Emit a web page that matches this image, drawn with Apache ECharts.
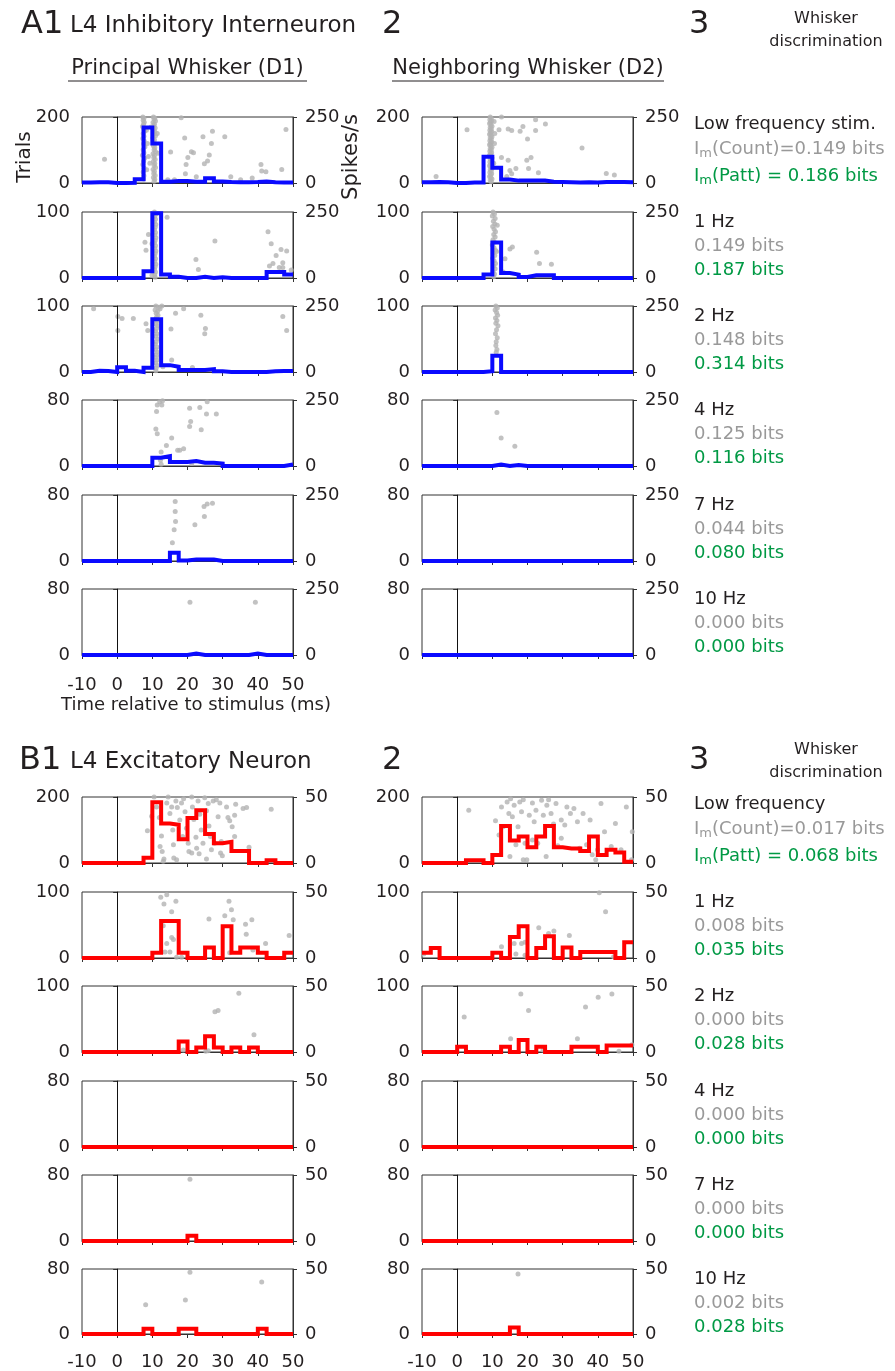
<!DOCTYPE html>
<html>
<head>
<meta charset="utf-8">
<script src="https://cdn.jsdelivr.net/npm/echarts@6/dist/echarts.min.js"></script>
<style>
  html, body { margin: 0; padding: 0; background: #fff; }
  #fig { width: 895px; height: 1371px; }
</style>
</head>
<body>
<div id="fig"></div>
<script>
// ---- data ----------------------------------------------------------------
// PSTH bin edges (ms), 2.5 ms bins from -10 to 50
var binEdges = [-10, -7.5, -5, -2.5, 0, 2.5, 5, 7.5, 10, 12.5, 15, 17.5, 20, 22.5, 25, 27.5, 30, 32.5, 35, 37.5, 40, 42.5, 45, 47.5, 50];
var xTicks = [-10, 50, 10]; // min, max, interval

var trialMax = [200, 100, 100, 80, 80, 80];
var rateMaxA = 250;
var rateMaxB = 50;

// spikes/s per bin (24 bins), rows = low freq, 1, 2, 4, 7, 10 Hz
var psthA1 = [
  [2, 3, 3, 0, 0, 1, 14, 210, 150, 5, 8, 8, 5, 5, 18, 6, 4, 3, 3, 4, 6, 3, 2, 2],
  [0, 0, 0, 0, 0, 0, 0, 26, 245, 13, 5, 0, 0, 5, 0, 3, 0, 0, 0, 0, 0, 23, 23, 13],
  [0, 5, 4, 0, 18, 5, 0, 16, 200, 26, 20, 8, 8, 8, 11, 3, 0, 0, 0, 0, 0, 3, 4, 4],
  [0, 0, 0, 0, 0, 0, 0, 0, 31, 37, 15, 15, 19, 12, 12, 9, 0, 0, 0, 0, 0, 0, 0, 6],
  [0, 0, 0, 0, 0, 0, 0, 0, 0, 0, 31, 2, 6, 6, 6, 0, 0, 0, 0, 0, 0, 0, 0, 0],
  [0, 0, 0, 0, 0, 0, 0, 0, 0, 0, 0, 0, 6, 0, 0, 0, 0, 0, 0, 6, 0, 0, 0, 0]
];
var psthA2 = [
  [3, 4, 3, 0, 0, 2, 2, 99, 58, 13, 9, 9, 9, 9, 5, 4, 3, 2, 3, 2, 4, 4, 4, 3],
  [0, 0, 0, 0, 0, 0, 0, 13, 134, 19, 13, 4, 10, 10, 10, 0, 0, 0, 0, 0, 0, 0, 0, 0],
  [0, 0, 0, 0, 0, 0, 0, 3, 62, 0, 0, 0, 0, 0, 0, 0, 0, 0, 0, 0, 0, 0, 0, 0],
  [0, 0, 0, 0, 0, 0, 0, 0, 6, 0, 4, 0, 0, 0, 0, 0, 0, 0, 0, 0, 0, 0, 0, 0],
  [0, 0, 0, 0, 0, 0, 0, 0, 0, 0, 0, 0, 0, 0, 0, 0, 0, 0, 0, 0, 0, 0, 0, 0],
  [0, 0, 0, 0, 0, 0, 0, 0, 0, 0, 0, 0, 0, 0, 0, 0, 0, 0, 0, 0, 0, 0, 0, 0]
];
var psthB1 = [
  [0, 0, 0, 0, 0, 0, 0, 4, 46, 30, 29, 18, 34, 40, 22, 15, 16, 9, 9, 0, 0, 2, 0, 0],
  [0, 0, 0, 0, 0, 0, 0, 0, 4, 28, 28, 4, 0, 0, 8, 0, 24, 4, 8, 8, 4, 0, 0, 4],
  [0, 0, 0, 0, 0, 0, 0, 0, 0, 0, 0, 8, 0, 3.5, 12, 3.5, 0, 3.5, 0, 3.5, 0, 0, 0, 0],
  [0, 0, 0, 0, 0, 0, 0, 0, 0, 0, 0, 0, 0, 0, 0, 0, 0, 0, 0, 0, 0, 0, 0, 0],
  [0, 0, 0, 0, 0, 0, 0, 0, 0, 0, 0, 0, 4, 0, 0, 0, 0, 0, 0, 0, 0, 0, 0, 0],
  [0, 0, 0, 0, 0, 0, 0, 4, 0, 0, 0, 4, 4, 0, 0, 0, 0, 0, 0, 0, 4, 0, 0, 0]
];
var psthB2 = [
  [0, 0, 0, 0, 0, 2, 2, 0, 6, 28, 17, 20, 12, 20, 28, 12, 11, 11, 9, 20, 6, 10, 8, 1],
  [4, 7.5, 0, 0, 0, 0, 0, 0, 4, 0, 16, 24, 0, 7.5, 16.5, 0, 8, 0, 4.5, 4.5, 4.5, 4.5, 0, 12],
  [0, 0, 0, 0, 4, 0, 0, 0, 0, 4, 0, 9, 0, 4, 0, 0, 0, 4, 4, 4, 0, 5, 5, 5],
  [0, 0, 0, 0, 0, 0, 0, 0, 0, 0, 0, 0, 0, 0, 0, 0, 0, 0, 0, 0, 0, 0, 0, 0],
  [0, 0, 0, 0, 0, 0, 0, 0, 0, 0, 0, 0, 0, 0, 0, 0, 0, 0, 0, 0, 0, 0, 0, 0],
  [0, 0, 0, 0, 0, 0, 0, 0, 0, 0, 5, 0, 0, 0, 0, 0, 0, 0, 0, 0, 0, 0, 0, 0]
];

// raster dots: [time (ms), trial]
var rasterA1 = [
  [[-3.6, 72], [15.2, 94], [18.2, 198], [19.2, 136], [20.1, 77], [21.1, 95], [21.7, 92], [19.6, 56], [19.4, 28], [22.5, 19],
   [24.4, 140], [27.1, 157], [26.8, 120], [26.2, 85], [25.7, 67], [24.8, 58], [30.6, 140], [32.3, 19], [35.1, 10], [38.4, 15],
   [40.9, 56], [41.1, 36], [42.3, 34], [46.8, 41], [48.0, 162], [14.4, 10], [16.3, 10],
   [7.3, 200], [7.6, 196], [7.4, 190], [7.7, 184], [7.5, 178], [7.2, 171], [7.6, 164], [7.8, 157], [7.4, 150], [7.6, 142],
   [7.3, 135], [7.7, 127], [7.5, 119], [7.9, 110], [7.4, 101], [7.6, 92], [7.2, 84], [7.8, 75], [7.5, 66], [7.3, 56],
   [7.7, 45], [7.4, 33], [7.6, 22], [7.5, 12], [8.3, 160], [8.6, 120], [8.9, 80], [8.4, 40],
   [10.3, 200], [10.7, 197], [10.5, 193], [10.9, 188], [10.2, 183], [10.6, 178], [10.4, 172], [10.8, 167], [10.3, 161], [10.7, 155],
   [10.5, 149], [10.9, 143], [10.2, 137], [10.6, 131], [10.4, 125], [10.8, 119], [10.3, 113], [10.7, 107], [10.5, 101], [10.9, 95],
   [10.2, 89], [10.6, 83], [10.4, 77], [10.8, 71], [10.3, 65], [10.7, 59], [10.5, 53], [10.9, 47], [10.2, 41], [10.6, 35],
   [10.4, 29], [10.8, 23], [10.3, 17], [10.7, 11], [10.5, 5], [11.4, 150], [11.6, 90], [9.6, 170], [9.3, 60]],
  [[7.9, 54], [8.2, 42], [8.9, 66], [9.9, 52], [9.9, 4], [14.2, 92], [22.4, 28], [23.1, 13], [27.8, 56], [42.9, 70],
   [43.8, 52], [46.6, 43], [45.2, 34], [44.3, 22], [43.3, 18], [47.1, 23], [48.2, 41], [49.5, 12], [46.1, 16], [47.1, 16],
   [10.6, 100], [11.0, 97], [10.7, 93], [10.9, 89], [10.6, 85], [11.0, 81], [10.8, 77], [10.6, 73], [10.9, 69], [10.7, 65],
   [11.0, 61], [10.8, 57], [10.6, 53], [10.9, 49], [10.7, 45], [11.0, 41], [10.8, 37], [10.6, 33], [10.9, 29], [10.7, 25],
   [11.0, 21], [10.8, 17], [10.6, 13], [10.9, 9], [10.7, 5], [10.8, 1]],
  [[-6.7, 96], [0.2, 84], [1.4, 81], [0.2, 63], [4.6, 81], [8.2, 73], [8.7, 63], [12.7, 100], [16.6, 89], [18.9, 96],
   [15.3, 65], [15.5, 18], [21.4, 7], [23.8, 86], [25.1, 66], [24.9, 58], [47.1, 84], [48.2, 63],
   [11.0, 100], [11.8, 98], [12.2, 96], [10.8, 94], [11.5, 92], [11.1, 89], [11.6, 86], [11.2, 83], [10.9, 80], [11.4, 77],
   [11.0, 73], [11.5, 70], [11.2, 66], [10.9, 62], [11.3, 58], [11.0, 54], [11.5, 50], [11.1, 46], [10.8, 42], [11.3, 38],
   [11.0, 34], [11.4, 30], [11.1, 26], [10.9, 22], [11.3, 18], [11.0, 14], [11.4, 10], [11.1, 6], [11.0, 2], [12.3, 24], [13.0, 8]],
  [[11.4, 74], [12.1, 78], [12.7, 74], [12.9, 79], [11.2, 66], [11.0, 45], [11.4, 39], [12.5, 17], [12.3, 7], [12.5, 2],
   [14.0, 25], [15.5, 34], [17.2, 19], [17.8, 19], [18.9, 21], [20.6, 70], [23.5, 71], [25.6, 78], [25.4, 63], [28.2, 63],
   [20.9, 54], [20.6, 48], [23.9, 44], [21.2, 3]],
  [[16.5, 72], [16.5, 60], [16.6, 48], [16.2, 38], [15.7, 22], [22.1, 44], [24.8, 54], [24.7, 66], [25.6, 69], [27.1, 70]],
  [[20.7, 64], [39.3, 64]]
];
var rasterA2 = [
  [[-6, 20], [2.8, 161], [12.6, 200], [11.9, 161], [14.5, 164], [15.5, 159], [17.9, 157], [18.7, 171], [22.3, 192], [25.1, 179],
   [22.3, 159], [20.0, 133], [12.6, 77], [14.5, 69], [15.0, 38], [16.7, 44], [15.5, 28], [19.8, 69], [21.0, 77], [20.3, 44],
   [23.1, 31], [35.5, 106], [42.4, 29], [44.7, 24], [14.1, 20],
   [9.4, 200], [9.7, 196], [9.3, 192], [9.8, 188], [9.5, 184], [9.2, 180], [9.6, 176], [9.9, 172], [9.4, 168], [9.7, 164],
   [9.3, 160], [9.8, 156], [9.5, 152], [9.2, 148], [9.6, 144], [9.9, 140], [9.4, 136], [9.7, 132], [9.3, 128], [9.8, 124],
   [9.5, 120], [9.2, 116], [9.6, 112], [9.9, 108], [9.4, 104], [9.7, 100], [9.3, 96], [9.8, 92], [9.5, 88], [9.2, 84],
   [9.6, 80], [9.9, 76], [9.4, 72], [9.7, 68], [9.3, 64], [9.8, 60], [9.5, 56], [9.2, 52], [9.6, 48], [9.9, 44],
   [9.4, 40], [9.7, 36], [9.3, 32], [9.8, 28], [9.5, 24], [9.2, 20], [9.6, 16], [9.9, 12], [9.4, 8], [9.7, 4],
   [10.5, 186], [10.6, 120], [10.4, 60], [10.7, 150]],
  [[15.7, 47], [15.0, 44], [22.6, 39], [23.4, 22], [26.8, 21], [13.6, 29], [13.1, 9],
   [10.2, 100], [10.6, 97], [10.0, 94], [10.8, 90], [10.3, 86], [10.7, 82], [10.1, 78], [10.5, 74], [10.9, 70], [10.4, 66],
   [10.8, 62], [10.2, 58], [10.6, 54], [10.0, 50], [10.5, 46], [10.9, 42], [10.3, 38], [10.7, 34], [10.1, 30], [10.5, 26],
   [10.9, 22], [10.4, 18], [10.8, 14], [10.2, 10], [10.6, 6], [10.4, 2], [11.4, 80], [11.2, 40]],
  [[11.0, 100], [11.4, 97], [10.8, 94], [11.2, 90], [11.5, 86], [10.9, 82], [11.3, 78], [11.0, 74], [11.6, 70], [11.2, 64],
   [10.9, 58], [11.4, 52], [11.1, 46], [11.0, 40], [11.3, 34], [11.1, 30]],
  [[11.3, 65], [12.5, 34], [16.4, 24]],
  [],
  []
];
var rasterB1 = [
  [[8.6, 98], [9.8, 142], [10.5, 200], [11.2, 170], [12.0, 138], [12.6, 82], [12.2, 50], [12.8, 35], [13.3, 12], [14.1, 182],
   [14.5, 200], [15.0, 150], [15.5, 170], [15.8, 100], [16.0, 55], [16.1, 15], [16.7, 188], [17.1, 168], [17.8, 130], [18.3, 182],
   [18.6, 80], [18.9, 195], [19.3, 155], [19.7, 105], [20.2, 60], [20.4, 35], [21.2, 200], [21.4, 170], [21.8, 132], [22.4, 78],
   [22.6, 45], [23.0, 188], [23.5, 148], [23.9, 100], [24.4, 60], [24.9, 198], [25.4, 158], [25.9, 180], [26.1, 112], [26.5, 80],
   [26.8, 40], [27.3, 188], [28.2, 192], [28.7, 140], [29.2, 182], [29.4, 30], [29.9, 22], [31.1, 170], [31.5, 138], [32.0, 128],
   [32.7, 110], [33.4, 80], [33.7, 178], [33.4, 145], [35.8, 165], [36.8, 168], [37.5, 48], [43.8, 163], [13.1, 5], [16.9, 10],
   [21.2, 30], [23.3, 28], [25.4, 12], [27.7, 60], [29.6, 65]],
  [[12.4, 92], [14.1, 96], [13.3, 82], [16.7, 86], [15.5, 70], [13.1, 49], [14.1, 22], [15.5, 31], [16.0, 28], [15.0, 9],
   [13.6, 9], [16.9, 1], [18.3, 1], [26.1, 59], [30.6, 64], [31.8, 86], [32.5, 73], [33.0, 58], [36.5, 51], [38.3, 58],
   [36.7, 36], [42.2, 22], [48.9, 34], [32.0, 8], [38.6, 12]],
  [[34.6, 89], [27.8, 61], [28.7, 63], [38.9, 26], [25.9, 2], [25.2, 1], [18.8, 3]],
  [],
  [[20.7, 75]],
  [[20.7, 76], [8.1, 36], [19.4, 42], [41.1, 64]]
];
var rasterB2 = [
  [[3.3, 160], [10.9, 128], [11.9, 85], [12.6, 170], [13.1, 110], [14.2, 185], [14.7, 150], [15.2, 195], [15.7, 140], [16.2, 175],
   [16.7, 55], [17.3, 110], [17.8, 185], [18.3, 155], [18.8, 192], [19.3, 60], [19.8, 10], [20.5, 145], [21.4, 182], [21.9, 125],
   [22.4, 160], [22.9, 60], [24.0, 190], [24.5, 145], [25.5, 175], [26.0, 192], [26.7, 150], [27.4, 118], [28.1, 180], [28.6, 52],
   [29.6, 130], [30.6, 115], [31.2, 170], [32.2, 150], [33.2, 165], [34.2, 125], [34.8, 45], [35.8, 150], [36.8, 55], [37.8, 130],
   [38.4, 25], [39.4, 10], [39.9, 40], [40.9, 180], [41.9, 95], [43.8, 50], [45.0, 120], [46.6, 40], [48.1, 170], [49.8, 95],
   [49.6, 10], [15.0, 20], [18.8, 10], [21.4, 70], [25.3, 20], [29.6, 75]],
  [[-9.5, 6], [12.6, 17], [16.2, 22], [16.7, 6], [18.3, 22], [19.3, 24], [19.8, 2], [19.3, 4], [23.2, 46], [26.0, 37],
   [27.5, 41], [31.9, 34], [40.4, 99], [42.2, 70], [44.5, 2]],
  [[2.0, 53], [18.1, 88], [20.3, 63], [36.5, 68], [40.1, 83], [44.0, 88], [15.2, 20], [34.2, 20], [46.0, 1], [49.7, 11], [24.4, 3]],
  [],
  [],
  [[17.3, 74]]
];

// whisker discrimination (bits)
var stimLabelsA = ['Low frequency stim.', '1 Hz', '2 Hz', '4 Hz', '7 Hz', '10 Hz'];
var stimLabelsB = ['Low frequency', '1 Hz', '2 Hz', '4 Hz', '7 Hz', '10 Hz'];
var countBitsA = ['0.149', '0.149', '0.148', '0.125', '0.044', '0.000'];
var pattBitsA = ['0.186', '0.187', '0.314', '0.116', '0.080', '0.000'];
var countBitsB = ['0.017', '0.008', '0.000', '0.000', '0.000', '0.002'];
var pattBitsB = ['0.068', '0.035', '0.028', '0.000', '0.000', '0.028'];

// ---- layout ----------------------------------------------------------------
var FONT = '"DejaVu Sans", sans-serif';
var INK = '#231f20';
var GREY_TXT = '#999999';
var GREEN = '#009944';
var colLeft = [82, 422];
var plotW = 211, plotH = 66;
var rowTopA = [117, 212, 306, 400, 495, 589];
var rowTopB = [797, 892, 986, 1081, 1175, 1269];

var chart = echarts.init(document.getElementById('fig'));

function stepData(vals) {
  return binEdges.map(function (e, i) {
    return [e, vals[Math.min(i, vals.length - 1)]];
  });
}

var grids = [], xAxes = [], yAxes = [], series = [];

function addPanel(left, top, trials, rateMax, raster, psth, color, showX, xMargin) {
  var g = grids.length;
  grids.push({
    left: left, top: top, width: plotW, height: plotH,
    show: true, borderColor: '#333', borderWidth: 1, backgroundColor: 'transparent'
  });
  xAxes.push({
    gridIndex: g, type: 'value', min: xTicks[0], max: xTicks[1], interval: xTicks[2],
    axisLine: { onZero: false, lineStyle: { color: '#333', width: 1 } },
    axisTick: { show: true, length: 4, lineStyle: { color: '#333' } },
    axisLabel: { show: showX, fontSize: 18, fontFamily: FONT, color: INK, margin: xMargin },
    splitLine: { show: false }
  });
  yAxes.push({
    gridIndex: g, type: 'value', position: 'left', min: 0, max: trials, interval: trials,
    axisLine: { show: true, lineStyle: { color: '#333', width: 1 } },
    axisTick: { show: true, length: 4, lineStyle: { color: '#333' } },
    axisLabel: { fontSize: 18, fontFamily: FONT, color: INK, margin: 12 },
    splitLine: { show: false }
  });
  yAxes.push({
    gridIndex: g, type: 'value', position: 'right', min: 0, max: rateMax, interval: rateMax,
    axisLine: { show: true, lineStyle: { color: '#333', width: 1 } },
    axisTick: { show: true, length: 4, lineStyle: { color: '#333' } },
    axisLabel: { fontSize: 18, fontFamily: FONT, color: INK, margin: 12 },
    splitLine: { show: false }
  });
  series.push({
    type: 'scatter', xAxisIndex: g, yAxisIndex: 2 * g, data: raster,
    symbolSize: 5, itemStyle: { color: '#b3b3b3' }, silent: true, z: 2,
    markLine: {
      silent: true, symbol: 'none', label: { show: false },
      lineStyle: { color: '#111', width: 1, type: 'solid' },
      data: [{ xAxis: 0 }]
    }
  });
  series.push({
    type: 'line', xAxisIndex: g, yAxisIndex: 2 * g + 1, step: 'end',
    data: stepData(psth), symbol: 'none', showSymbol: false, clip: false, silent: true, z: 10,
    lineStyle: { color: color, width: 4, join: 'miter', cap: 'butt' }
  });
}

for (var r = 0; r < 6; r++) {
  addPanel(colLeft[0], rowTopA[r], trialMax[r], rateMaxA, rasterA1[r], psthA1[r], '#0a0aff', r === 5, 21);
  addPanel(colLeft[1], rowTopA[r], trialMax[r], rateMaxA, rasterA2[r], psthA2[r], '#0a0aff', false, 21);
  addPanel(colLeft[0], rowTopB[r], trialMax[r], rateMaxB, rasterB1[r], psthB1[r], '#ff0000', r === 5, 19);
  addPanel(colLeft[1], rowTopB[r], trialMax[r], rateMaxB, rasterB2[r], psthB2[r], '#ff0000', r === 5, 19);
}

// ---- texts -----------------------------------------------------------------
function txt(x, y, s, size, color, align, rot) {
  return {
    type: 'text', x: x, y: y, rotation: rot || 0, silent: true,
    style: { text: s, fontSize: size, fontFamily: FONT, fill: color, align: align || 'left', verticalAlign: 'middle' }
  };
}
function subTxt(x, y, rest, color) {
  return {
    type: 'text', x: x, y: y, silent: true,
    style: {
      text: '{n|I}{s|m}{n|' + rest + '}', fontFamily: FONT, fill: color, align: 'left', verticalAlign: 'middle',
      rich: {
        n: { fontSize: 18, fontFamily: FONT, fill: color },
        s: { fontSize: 13, fontFamily: FONT, fill: color, padding: [9, 0, 0, 0] }
      }
    }
  };
}

var els = [];
// section headers
els.push(txt(21, 25, 'A1', 32, INK));
els.push(txt(70, 26, 'L4 Inhibitory Interneuron', 23, INK));
els.push(txt(382, 25, '2', 32, INK));
els.push(txt(689, 25, '3', 32, INK));
els.push(txt(826, 19, 'Whisker', 16, INK, 'center'));
els.push(txt(826, 42, 'discrimination', 16, INK, 'center'));
els.push(txt(187.5, 69, 'Principal Whisker (D1)', 21, INK, 'center'));
els.push({ type: 'line', silent: true, shape: { x1: 68, y1: 81, x2: 307, y2: 81 }, style: { stroke: INK, lineWidth: 1 } });
els.push(txt(528, 69, 'Neighboring Whisker (D2)', 21, INK, 'center'));
els.push({ type: 'line', silent: true, shape: { x1: 392, y1: 81, x2: 664, y2: 81 }, style: { stroke: INK, lineWidth: 1 } });
els.push(txt(25, 157, 'Trials', 20, INK, 'center', Math.PI / 2));
els.push(txt(352, 157, 'Spikes/s', 21, INK, 'center', Math.PI / 2));
els.push(txt(196, 705, 'Time relative to stimulus (ms)', 18, INK, 'center'));

els.push(txt(19, 761, 'B1', 32, INK));
els.push(txt(70, 762, 'L4 Excitatory Neuron', 23, INK));
els.push(txt(382, 761, '2', 32, INK));
els.push(txt(689, 761, '3', 32, INK));
els.push(txt(826, 750, 'Whisker', 16, INK, 'center'));
els.push(txt(826, 773, 'discrimination', 16, INK, 'center'));

function infoBlock(tops, labels, counts, patts) {
  for (var i = 0; i < 6; i++) {
    var t = tops[i];
    if (i === 0) {
      els.push(txt(694, t + 7, labels[i], 18, INK));
      els.push(subTxt(694, t + 32, '(Count)=' + counts[i] + ' bits', GREY_TXT));
      els.push(subTxt(694, t + 59, '(Patt) = ' + patts[i] + ' bits', GREEN));
    } else {
      els.push(txt(694, t + 10, labels[i], 18, INK));
      els.push(txt(694, t + 34, counts[i] + ' bits', 18, GREY_TXT));
      els.push(txt(694, t + 58, patts[i] + ' bits', 18, GREEN));
    }
  }
}
infoBlock(rowTopA, stimLabelsA, countBitsA, pattBitsA);
infoBlock(rowTopB, stimLabelsB, countBitsB, pattBitsB);

chart.setOption({
  animation: false,
  backgroundColor: '#ffffff',
  textStyle: { fontFamily: FONT },
  grid: grids,
  xAxis: xAxes,
  yAxis: yAxes,
  series: series,
  graphic: { elements: els }
});
</script>
</body>
</html>
